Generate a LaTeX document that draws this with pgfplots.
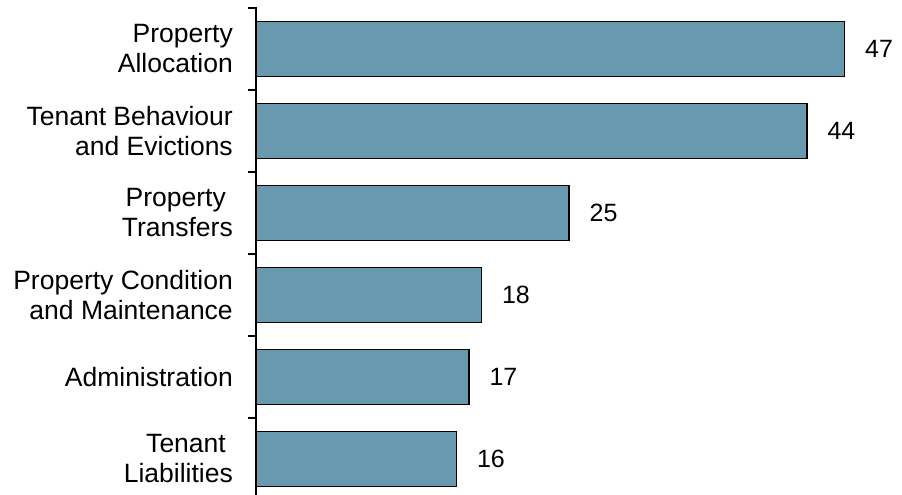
\documentclass[border=0pt]{standalone}
\usepackage{fontspec}
\setmainfont{Liberation Sans}
\usepackage{pgfplots}
\pgfplotsset{compat=1.18}
\definecolor{barblue}{RGB}{104,153,174}
\begin{document}
\begin{tikzpicture}
\begin{axis}[
  at={(0,0)}, anchor=south west,
  scale only axis, width=646bp, height=488bp,
  xbar, bar width=0.67, bar shift=0pt,
  xmin=0, xmax=51.6,
  ymin=-0.51, ymax=5.44, y dir=reverse,
  axis x line=none, axis y line*=left,
  clip=false,
  /pgf/number format/assume math mode=true,
  ytick={0,1,2,3,4,5},
  yticklabels={{Property\\Allocation},{Tenant Behaviour\\and Evictions},{Property\hspace*{7bp}\\Transfers},{Property Condition\\and Maintenance},{Administration},{Tenant\hspace*{7bp}\\Liabilities}},
  yticklabel style={align=right, font=\fontsize{26.5bp}{30bp}\selectfont, inner sep=0pt, xshift=-23bp},
  major tick length=0pt,
  minor ytick={-0.5,0.5,1.5,2.5,3.5,4.5},
  minor tick length=8bp,
  tick align=outside,
  tick style={black, line width=1.4bp},
  y axis line style={black, line width=1.4bp},
  nodes near coords,
  nodes near coords style={font=\fontsize{25bp}{29bp}\selectfont, inner sep=0pt, anchor=west, xshift=20bp, black},
]
\addplot[fill=barblue, draw=black, line width=1.4bp] coordinates {(47,0) (44,1) (25,2) (18,3) (17,4) (16,5)};
\end{axis}
\pgfresetboundingbox
\useasboundingbox (-256bp,0) rectangle (646bp,495bp);
\end{tikzpicture}
\end{document}
